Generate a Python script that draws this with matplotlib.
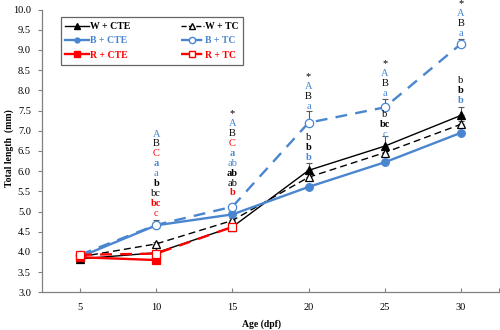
import numpy as np
import matplotlib
matplotlib.use("Agg")
import matplotlib.pyplot as plt
from matplotlib.lines import Line2D

plt.rcParams["font.family"] = ["Liberation Serif", "DejaVu Serif"]

BLUE = "#4a86d0"
RED = "#ff0000"
BLACK = "#000000"
ERR = "#595959"

ages = [5, 10, 15, 20, 25, 30]

w_cte = [3.83, 3.98, 4.62, 6.02, 6.62, 7.38]
w_tc = [3.88, 4.20, 4.78, 5.85, 6.46, 7.16]
b_cte = [3.88, 4.66, 4.93, 5.61, 6.22, 6.95]
b_tc = [3.93, 4.67, 5.12, 7.20, 7.58, 9.15]
r_cte = [3.87, 3.80]
r_tc = [3.93, 3.96, 4.62]

w_cte_err = [0.03, 0.05, 0.06, 0.17, 0.24, 0.22]
w_tc_err = [0.03, 0.05, 0.05, 0.10, 0.08, 0.08]
b_cte_err = [0.03, 0.12, 0.05, 0.04, 0.05, 0.05]
b_tc_err = [0.03, 0.05, 0.07, 0.30, 0.21, 0.12]
r_cte_err = [0.03, 0.04]
r_tc_err = [0.03, 0.04, 0.05]

# letter groups: (age, lowest text y, [(text, colour, bold), ...] from bottom to top)
letter_groups = [
    (10, 4.96, [("c", RED, False), ("bc", RED, True), ("bc", BLACK, False),
                ("b", BLACK, True), ("a", BLUE, False), ("a", BLUE, True),
                ("C", RED, False), ("B", BLACK, False), ("A", BLUE, False)]),
    (15, 5.46, [("b", RED, True), ("ab", BLACK, False), ("ab", BLACK, True),
                ("ab", BLUE, False), ("a", BLUE, True), ("C", RED, False),
                ("B", BLACK, False), ("A", BLUE, False), ("*", BLACK, False)]),
    (20, 7.61, [("a", BLUE, False), ("B", BLACK, False), ("A", BLUE, False),
                ("*", BLACK, False)]),
    (20, 6.35, [("b", BLUE, True), ("b", BLACK, True), ("b", BLACK, False)]),
    (25, 7.93, [("a", BLUE, False), ("B", BLACK, False), ("A", BLUE, False),
                ("*", BLACK, False)]),
    (25, 6.92, [("c", BLUE, False), ("bc", BLACK, True), ("b", BLACK, False)]),
    (30, 9.42, [("a", BLUE, False), ("B", BLACK, False), ("A", BLUE, False),
                ("*", BLACK, False)]),
    (30, 7.76, [("b", BLUE, True), ("b", BLACK, True), ("b", BLACK, False)]),
]
letter_step = 0.245

fig = plt.figure(figsize=(5, 3.3), dpi=100)
ax = fig.add_axes([0.084, 0.114, 0.914, 0.857])


def draw(x, y, err, color, ls, lw, marker, mfc, ms, dashes=None):
    ax.errorbar(x, y, yerr=[np.zeros(len(err)), err], fmt="none",
                ecolor=ERR, elinewidth=0.8, capsize=2, capthick=0.8, zorder=2)
    line, = ax.plot(x, y, color=color, linestyle=ls, linewidth=lw, marker=marker,
                    markerfacecolor=mfc, markeredgecolor=color, markersize=ms,
                    markeredgewidth=0.9, zorder=3)
    if dashes:
        line.set_dashes(dashes)


draw(ages, w_cte, w_cte_err, BLACK, "-", 1.0, "^", BLACK, 5.5)
draw(ages, w_tc, w_tc_err, BLACK, "--", 1.0, "^", "white", 6, (5, 3))
draw(ages, b_cte, b_cte_err, BLUE, "-", 1.7, "o", BLUE, 5.5)
draw(ages, b_tc, b_tc_err, BLUE, "--", 1.7, "o", "white", 6, (5, 3.5))
draw(ages[:2], r_cte, r_cte_err, RED, "-", 1.7, "s", RED, 5.5)
draw(ages[:3], r_tc, r_tc_err, RED, "--", 1.7, "s", "white", 6, (5, 3.5))

for age, base, items in letter_groups:
    for i, (txt, col, bold) in enumerate(items):
        ax.text(age, base + i * letter_step, txt, color=col, fontsize=7.5,
                fontweight="bold" if bold else "normal",
                ha="center", va="center", zorder=4)

ax.set_xlim(2.5, 32.5)
ax.set_ylim(3.0, 10.0)
ax.set_xticks(ages)
ax.set_xticks([32.5], minor=True)
ax.set_yticks(np.arange(3.0, 10.01, 0.5))
ax.yaxis.set_major_formatter(matplotlib.ticker.FormatStrFormatter("%.1f"))
ax.tick_params(axis="x", which="both", direction="in", length=3, width=0.8,
               color="#808080", labelsize=7.5, pad=8)
ax.tick_params(axis="y", direction="out", length=3, width=0.8,
               color="#808080", labelsize=7.5, pad=5)
for side in ("top", "right"):
    ax.spines[side].set_visible(False)
for side in ("left", "bottom"):
    ax.spines[side].set_color("#808080")
    ax.spines[side].set_linewidth(0.9)

fig.text(0.018, 0.55, "Total length  (mm)", fontsize=7, fontweight="bold",
         rotation=90, ha="center", va="center")
fig.text(0.522, 0.018, "Age (dpf)", fontsize=7, fontweight="bold",
         ha="center", va="center")

handles = [
    Line2D([], [], color=BLACK, lw=1.0, marker="^", mfc=BLACK, mec=BLACK, ms=4.5),
    Line2D([], [], color=BLUE, lw=1.7, marker="o", mfc=BLUE, mec=BLUE, ms=3.5),
    Line2D([], [], color=RED, lw=1.7, marker="s", mfc=RED, mec=RED, ms=4.5),
    Line2D([], [], color=BLACK, lw=1.0, ls="--", marker="^", mfc="white", mec=BLACK, ms=4.5),
    Line2D([], [], color=BLUE, lw=1.7, ls="--", marker="o", mfc="white", mec=BLUE, ms=4.5),
    Line2D([], [], color=RED, lw=1.7, ls="--", marker="s", mfc="white", mec=RED, ms=4.5),
]
labels = ["W + CTE", "B + CTE", "R + CTE", "W + TC", "B + TC", "R + TC"]
leg = ax.legend(handles, labels, ncol=2, loc="upper left",
                bbox_to_anchor=(0.03, 0.99), fontsize=7, frameon=True,
                fancybox=False, edgecolor="#404040", handlelength=2.4,
                handletextpad=0.1, columnspacing=5.2, labelspacing=0.55,
                borderpad=0.5)
leg.get_frame().set_linewidth(0.9)
for txt, h in zip(leg.get_texts(), handles):
    txt.set_color(h.get_color())
    txt.set_fontweight("bold")

fig.savefig("out.png", dpi=100)
